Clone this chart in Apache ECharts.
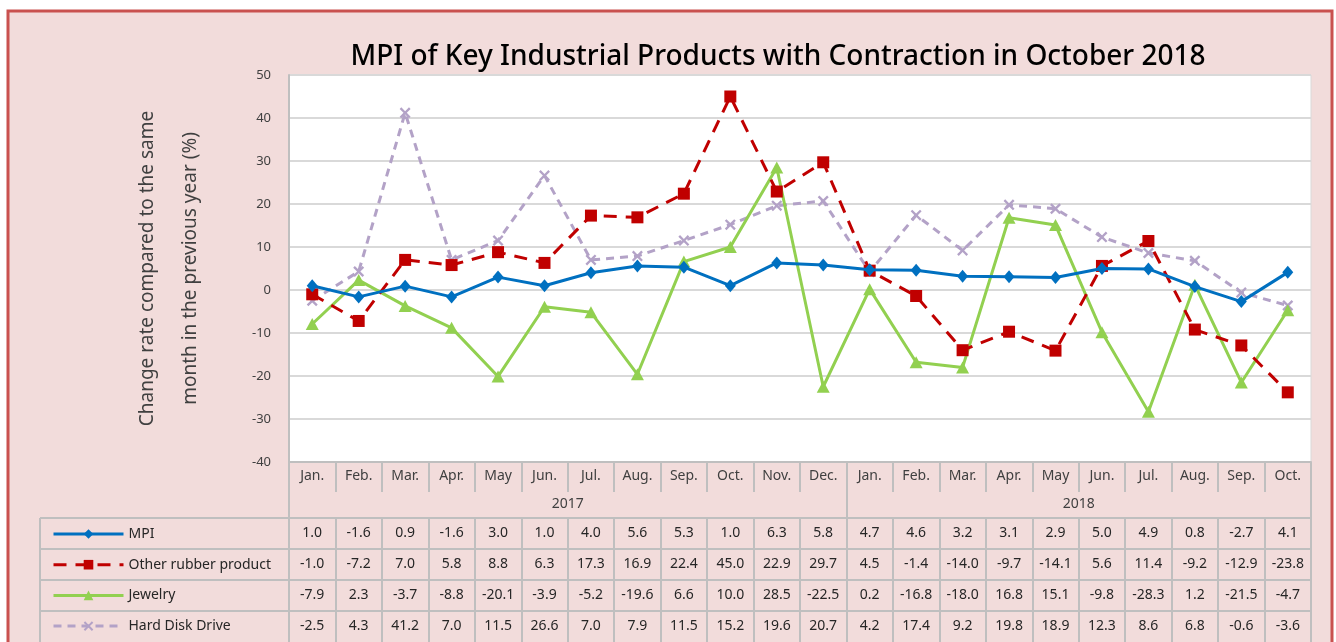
<!DOCTYPE html>
<html>
<head>
<meta charset="utf-8">
<title>MPI of Key Industrial Products</title>
<script src="https://cdn.jsdelivr.net/npm/echarts@6/dist/echarts.min.js"></script>
<style>
  html, body { margin: 0; padding: 0; background: #fff; }
  #chart { width: 1336px; height: 642px; }
</style>
</head>
<body>
<div id="chart"></div>
<script>
// data
var months = ['Jan.', 'Feb.', 'Mar.', 'Apr.', 'May', 'Jun.', 'Jul.', 'Aug.', 'Sep.', 'Oct.', 'Nov.', 'Dec.',
  'Jan.', 'Feb.', 'Mar.', 'Apr.', 'May', 'Jun.', 'Jul.', 'Aug.', 'Sep.', 'Oct.']
var years = ['2017', '2018']
var monthsPerYear = [12, 10]

var mpi = [1.0, -1.6, 0.9, -1.6, 3.0, 1.0, 4.0, 5.6, 5.3, 1.0, 6.3, 5.8, 4.7, 4.6, 3.2, 3.1, 2.9, 5.0, 4.9, 0.8, -2.7, 4.1]
var rubber = [-1.0, -7.2, 7.0, 5.8, 8.8, 6.3, 17.3, 16.9, 22.4, 45.0, 22.9, 29.7, 4.5, -1.4, -14.0, -9.7, -14.1, 5.6, 11.4, -9.2, -12.9, -23.8]
var jewelry = [-7.9, 2.3, -3.7, -8.8, -20.1, -3.9, -5.2, -19.6, 6.6, 10.0, 28.5, -22.5, 0.2, -16.8, -18.0, 16.8, 15.1, -9.8, -28.3, 1.2, -21.5, -4.7]
var hdd = [-2.5, 4.3, 41.2, 7.0, 11.5, 26.6, 7.0, 7.9, 11.5, 15.2, 19.6, 20.7, 4.2, 17.4, 9.2, 19.8, 18.9, 12.3, 8.6, 6.8, -0.6, -3.6]

var seriesNames = ['MPI', 'Other rubber product', 'Jewelry', 'Hard Disk Drive']
var seriesData = [mpi, rubber, jewelry, hdd]

var FONT = 'Noto Sans'
var GRID_COLOR = '#bfbfbf'
var TEXT = '#262626'

// year row: point axis with one slot per month boundary, year text centred over its months
var yearRow = []
var yearBounds = [0]
var start = 0
for (var i = 0; i <= months.length; i++) yearRow.push('')
years.forEach(function (y, k) {
  yearRow[start + monthsPerYear[k] / 2] = y
  start += monthsPerYear[k]
  yearBounds.push(start)
})

var myChart = echarts.init(document.getElementById('chart'))

var xAxes = [
  {
    type: 'category',
    data: months,
    position: 'bottom',
    axisLine: { onZero: false, lineStyle: { color: GRID_COLOR, width: 2 } },
    axisTick: { show: true, interval: 0, length: 30, lineStyle: { color: GRID_COLOR, width: 2 } },
    axisLabel: { interval: 0, margin: 7, fontSize: 14, color: '#404040', fontFamily: FONT }
  },
  {
    type: 'category',
    data: yearRow,
    boundaryGap: false,
    position: 'bottom',
    offset: 28,
    axisLine: { show: false, onZero: false },
    axisTick: {
      show: true,
      length: 28,
      interval: function (idx) { return yearBounds.indexOf(idx) >= 0 },
      lineStyle: { color: GRID_COLOR, width: 2 }
    },
    axisLabel: { interval: 0, margin: 7, fontSize: 14, color: '#404040', fontFamily: FONT }
  }
]

// one axis per table row with the values as its labels
seriesData.forEach(function (arr, k) {
  xAxes.push({
    type: 'category',
    data: arr.map(function (v) { return v.toFixed(1) }),
    position: 'bottom',
    offset: 56 + k * 31,
    axisLine: { onZero: false, lineStyle: { color: GRID_COLOR, width: 2 } },
    axisTick: { show: true, interval: 0, length: 31, lineStyle: { color: GRID_COLOR, width: 2 } },
    axisLabel: { interval: 0, margin: 8, fontSize: 14, color: TEXT, fontFamily: FONT }
  })
})

var xSymbol = 'path://M0,1.5 L1.5,0 L5,3.5 L8.5,0 L10,1.5 L6.5,5 L10,8.5 L8.5,10 L5,6.5 L1.5,10 L0,8.5 L3.5,5 Z'

var option = {
  backgroundColor: '#fff',
  animation: false,
  textStyle: { fontFamily: FONT },
  title: {
    text: 'MPI of Key Industrial Products with Contraction in October 2018',
    left: 773,
    textAlign: 'center',
    top: 38,
    textStyle: { fontSize: 28, fontWeight: 500, color: '#000', fontFamily: FONT }
  },
  graphic: [
    {
      type: 'rect',
      z: -10,
      shape: { x: 8, y: 11, width: 1324, height: 640 },
      style: { fill: '#f2dcdb', stroke: '#c9514f', lineWidth: 3 }
    },
    {
      type: 'group',
      children: [518, 549, 580, 611].map(function (y) {
        return { type: 'line', shape: { x1: 40, y1: y, x2: 289, y2: y }, style: { stroke: GRID_COLOR, lineWidth: 2 } }
      }).concat([
        { type: 'line', shape: { x1: 40, y1: 518, x2: 40, y2: 645 }, style: { stroke: GRID_COLOR, lineWidth: 2 } },
        { type: 'line', shape: { x1: 289, y1: 462, x2: 289, y2: 645 }, style: { stroke: GRID_COLOR, lineWidth: 2 } }
      ])
    }
  ],
  legend: {
    data: seriesNames,
    orient: 'vertical',
    left: 52,
    top: 527,
    padding: 0,
    itemWidth: 70,
    itemHeight: 12,
    itemGap: 16.7,
    lineStyle: { width: 3 },
    textStyle: { fontSize: 14, color: TEXT, fontFamily: FONT, padding: [0, 0, 8, 0] }
  },
  grid: {
    left: 289,
    right: 25,
    top: 75,
    bottom: 180,
    show: true,
    backgroundColor: '#fff',
    borderColor: '#d9d9d9',
    borderWidth: 1
  },
  xAxis: xAxes,
  yAxis: {
    type: 'value',
    min: -40,
    max: 50,
    interval: 10,
    name: 'Change rate compared to the same\nmonth in the previous year (%)',
    nameLocation: 'middle',
    nameGap: 77,
    nameTextStyle: { fontSize: 19, color: '#404040', lineHeight: 43, fontFamily: FONT },
    axisLine: { show: true, lineStyle: { color: GRID_COLOR, width: 2 } },
    axisTick: { show: false },
    axisLabel: { margin: 18, fontSize: 13, color: '#404040', fontFamily: FONT },
    splitLine: { lineStyle: { color: '#d9d9d9', width: 2 } }
  },
  series: [
    {
      name: seriesNames[0],
      type: 'line',
      data: mpi,
      symbol: 'diamond',
      symbolSize: [11, 13],
      itemStyle: { color: '#0070c0' },
      lineStyle: { color: '#0070c0', width: 3 },
      z: 5
    },
    {
      name: seriesNames[1],
      type: 'line',
      data: rubber,
      symbol: 'rect',
      symbolSize: 12,
      itemStyle: { color: '#c00000' },
      lineStyle: { color: '#c00000', width: 3, type: [13, 9] },
      z: 4
    },
    {
      name: seriesNames[2],
      type: 'line',
      data: jewelry,
      symbol: 'triangle',
      symbolSize: [13, 12],
      itemStyle: { color: '#92d050' },
      lineStyle: { color: '#92d050', width: 3 },
      z: 3
    },
    {
      name: seriesNames[3],
      type: 'line',
      data: hdd,
      symbol: xSymbol,
      symbolSize: 11,
      itemStyle: { color: '#b3a2c7' },
      lineStyle: { color: '#b3a2c7', width: 3, type: [8, 6] },
      z: 2
    }
  ]
}

myChart.setOption(option)
</script>
</body>
</html>
